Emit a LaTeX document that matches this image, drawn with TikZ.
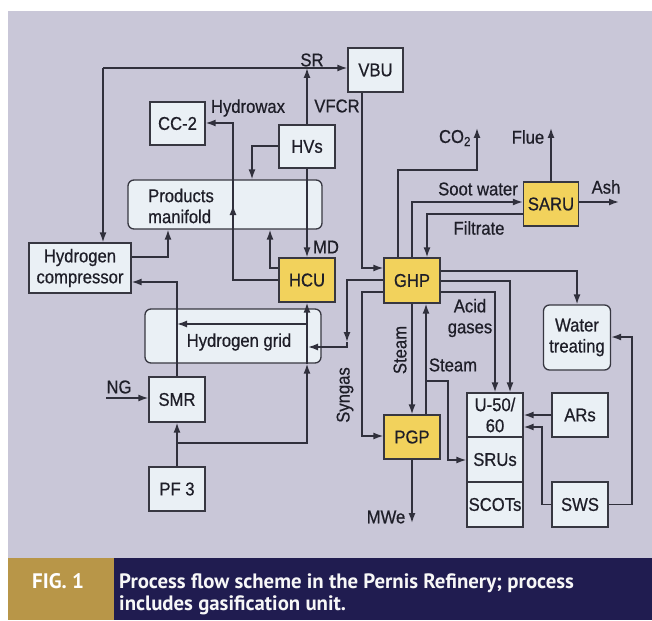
\documentclass[tikz,border=0pt]{standalone}
\usepackage{fontspec}
\setmainfont{Liberation Sans}[FakeStretch=0.9, FakeBold=0.6]
\newfontfamily\capfont{PT Sans}
\usetikzlibrary{arrows.meta}
\definecolor{panel}{RGB}{201,199,216}
\definecolor{boxfill}{RGB}{234,240,245}
\definecolor{yel}{RGB}{242,210,92}
\definecolor{edgec}{RGB}{55,55,65}
\definecolor{linec}{RGB}{48,48,60}
\definecolor{txt}{RGB}{30,30,40}
\definecolor{navy}{RGB}{32,28,80}
\definecolor{gold}{RGB}{184,150,72}
\newcommand{\lblfont}{\fontsize{18.5}{21}\selectfont}
\begin{document}
\begin{tikzpicture}[x=1pt,y=-1pt,
  box/.style={draw=edgec, line width=1.3pt, fill=boxfill, inner sep=0pt, text=txt, font=\lblfont, align=center},
  ybox/.style={box, fill=yel},
  rbox/.style={box, rounded corners=6pt},
  arr/.style={draw=linec, line width=1.5pt, -{Latex[length=10pt,width=7pt]}},
  ln/.style={draw=linec, line width=1.5pt},
  lbl/.style={text=txt, inner sep=0pt, font=\lblfont, align=center}]
\useasboundingbox (0,0) rectangle (652,620);
\fill[white] (0,0) rectangle (652,620);
\fill[panel] (8,11) rectangle (652,558);
\fill[gold] (8,558) rectangle (114,620);
\fill[navy] (114,558) rectangle (652,620);

% nodes
\node[box, minimum width=55pt, minimum height=44pt] (VBU) at (375.5,70) {VBU};
\node[box, minimum width=55pt, minimum height=43pt] (CC2) at (177.5,123.5) {CC-2};
\node[box, minimum width=56pt, minimum height=43pt] (HVs) at (307,146.5) {HVs};
\node[rbox, minimum width=194pt, minimum height=49pt] (PM) at (225,204.5) {};
\node[lbl, align=left] (pmlabel) at (181,206) {Products\\manifold};
\node[box, minimum width=102pt, minimum height=50pt] (HC) at (80,268) {Hydrogen\\compressor};
\node[ybox, minimum width=56pt, minimum height=44pt] (HCU) at (307,280) {HCU};
\node[ybox, minimum width=56pt, minimum height=45pt] (GHP) at (412,280.5) {GHP};
\node[ybox, minimum width=55pt, minimum height=44pt] (SARU) at (551,204) {SARU};
\node[rbox, minimum width=176pt, minimum height=54pt] (grid) at (233,336) {};
\node[lbl] (gridlabel) at (239,342) {Hydrogen grid};
\node[rbox, minimum width=67pt, minimum height=65pt] (WT) at (577,337.5) {Water\\treating};
\node[box, minimum width=56pt, minimum height=45pt] (SMR) at (177,399.5) {SMR};
\node[box, minimum width=56pt, minimum height=44pt] (PF3) at (177,489) {PF 3};
\node[ybox, minimum width=56pt, minimum height=44pt] (PGP) at (412,437) {PGP};
\node[box, minimum width=56pt, minimum height=44pt] (U50) at (495,415) {U-50/\\60};
\node[box, minimum width=56pt, minimum height=45pt] (SRU) at (495,459.5) {SRUs};
\node[box, minimum width=56pt, minimum height=45pt] (SCOT) at (495,504.5) {SCOTs};
\node[box, minimum width=56pt, minimum height=44pt] (ARs) at (580,415) {ARs};
\node[box, minimum width=56pt, minimum height=45pt] (SWS) at (580,504.5) {SWS};

% coordinates
\coordinate (srj) at (307,68);
\coordinate (srl) at (103,68);
\coordinate (v1) at (362,268);
\coordinate (h1) at (233,280);
\coordinate (h2) at (233,123);
\coordinate (h3) at (233,205);
\coordinate (m1) at (252,146);
\coordinate (m2) at (270,268);
\coordinate (m3) at (168,257);
\coordinate (c1) at (177,282);
\coordinate (ng) at (106,398);
\coordinate (p1) at (177,443);
\coordinate (p2) at (307,443);
\coordinate (g1) at (307,324);
\coordinate (s1) at (347,280);
\coordinate (s2a) at (347,342);
\coordinate (s2) at (347,347);
\coordinate (s3) at (308,347);
\coordinate (y1) at (362,292);
\coordinate (y2) at (362,436);
\coordinate (su) at (426,381);
\coordinate (su2) at (448,381);
\coordinate (su3) at (448,460);
\coordinate (co1) at (398,170);
\coordinate (co2) at (477,170);
\coordinate (co3) at (477,128);
\coordinate (sw1) at (412,202);
\coordinate (f1) at (427,214);
\coordinate (fl) at (551,128);
\coordinate (ash) at (619,202);
\coordinate (w1) at (577,271);
\coordinate (a1) at (510,281);
\coordinate (a2) at (495,292);
\coordinate (sw2) at (542,427);
\coordinate (sw3) at (632,337);
\coordinate (mwe) at (412,523);

% connectors
\draw[arr] (HVs.north) -- (srj);
\draw[arr] (srj) -- (srj -| VBU.west);
\draw[ln] (srj) -- (srl);
\draw[arr] (srl) -- (srl |- HC.north);
\draw[arr] (v1 |- VBU.south) -- (v1) -- (v1 -| GHP.west);
\draw[arr] (h1 -| HCU.west) -- (h1) -- (h2) -- (h2 -| CC2.east);
\draw[arr] (h1) -- (h3);
\draw[arr] (m1 -| HVs.west) -- (m1) -- (m1 |- PM.north);
\draw[arr] (HVs.south) -- (HCU.north);
\draw[arr] (m2 -| HCU.west) -- (m2) -- (m2 |- PM.south);
\draw[arr] (m3 -| HC.east) -- (m3) -- (m3 |- PM.south);
\draw[arr] (SMR.north) -- (c1) -- (c1 -| HC.east);
\draw[arr] (ng) -- (ng -| SMR.west);
\draw[arr] (PF3.north) -- (SMR.south);
\draw[arr] (p1) -- (p2) -- (p2 |- grid.south);
\draw[arr] (p2 |- grid.south) -- (HCU.south);
\draw[arr] (g1) -- (g1 -| c1);
\draw[arr] (s1 -| GHP.west) -- (s1) -- (s2a);
\draw[arr] (s2a) -- (s2) -- (s3);
\draw[arr] (y1 -| GHP.west) -- (y1) -- (y2) -- (y2 -| PGP.west);
\draw[arr] (GHP.south) -- (PGP.north);
\draw[arr] (su |- PGP.north) -- (su |- GHP.south);
\draw[arr] (su) -- (su2) -- (su3) -- (su3 -| SRU.west);
\draw[arr] (co1 |- GHP.north) -- (co1) -- (co2) -- (co3);
\draw[arr] (GHP.north) -- (sw1) -- (sw1 -| SARU.west);
\draw[arr] (f1 -| SARU.west) -- (f1) -- (f1 |- GHP.north);
\draw[arr] (SARU.north) -- (fl);
\draw[arr] (ash -| SARU.east) -- (ash);
\draw[arr] (w1 -| GHP.east) -- (w1) -- (w1 |- WT.north);
\draw[arr] (a1 -| GHP.east) -- (a1) -- (a1 |- U50.north);
\draw[arr] (a2 -| GHP.east) -- (a2) -- (a2 |- U50.north);
\draw[arr] (ARs.west) -- (ARs.west -| U50.east);
\draw[arr] (SWS.west) -- (SWS.west -| sw2) -- (sw2) -- (sw2 -| U50.east);
\draw[arr] (SWS.east) -- (SWS.east -| sw3) -- (sw3) -- (sw3 -| WT.east);
\draw[arr] (PGP.south) -- (mwe);

% labels
\node[lbl] (lSR) at (312,60) {SR};
\node[lbl] (lVFCR) at (337,106) {VFCR};
\node[lbl] (lHW) at (248,108) {Hydrowax};
\node[lbl] (lMD) at (326,247) {MD};
\node[lbl] (lCO2) at (455,138) {CO\textsubscript{2}};
\node[lbl] (lFlue) at (528,137) {Flue};
\node[lbl] (lSoot) at (478,189) {Soot water};
\node[lbl] (lFil) at (479,228) {Filtrate};
\node[lbl] (lAsh) at (606,187) {Ash};
\node[lbl] (lAcid) at (470,318) {Acid\\gases};
\node[lbl, rotate=90] (lSteam1) at (400,350) {Steam};
\node[lbl] (lSteam2) at (453,365) {Steam};
\node[lbl, rotate=90] (lSyn) at (345,395) {Syngas};
\node[lbl] (lNG) at (119,387) {NG};
\node[lbl] (lMWe) at (386,517) {MWe};

% caption
\node[anchor=base west, inner sep=0pt, text=white, font={\capfont\bfseries\fontsize{21}{22}\selectfont}] (fig) at (32,588) {FIG. 1};
\node[anchor=base west, inner sep=0pt, text=white!94!gray, font={\capfont\bfseries\fontsize{20.8}{22}\selectfont}] (cap1) at (119,588) {Process flow scheme in the Pernis Refinery; process};
\node[anchor=base west, inner sep=0pt, text=white!94!gray, font={\capfont\bfseries\fontsize{20.8}{22}\selectfont}] (cap2) at (119,610) {includes gasification unit.};
\end{tikzpicture}
\end{document}
